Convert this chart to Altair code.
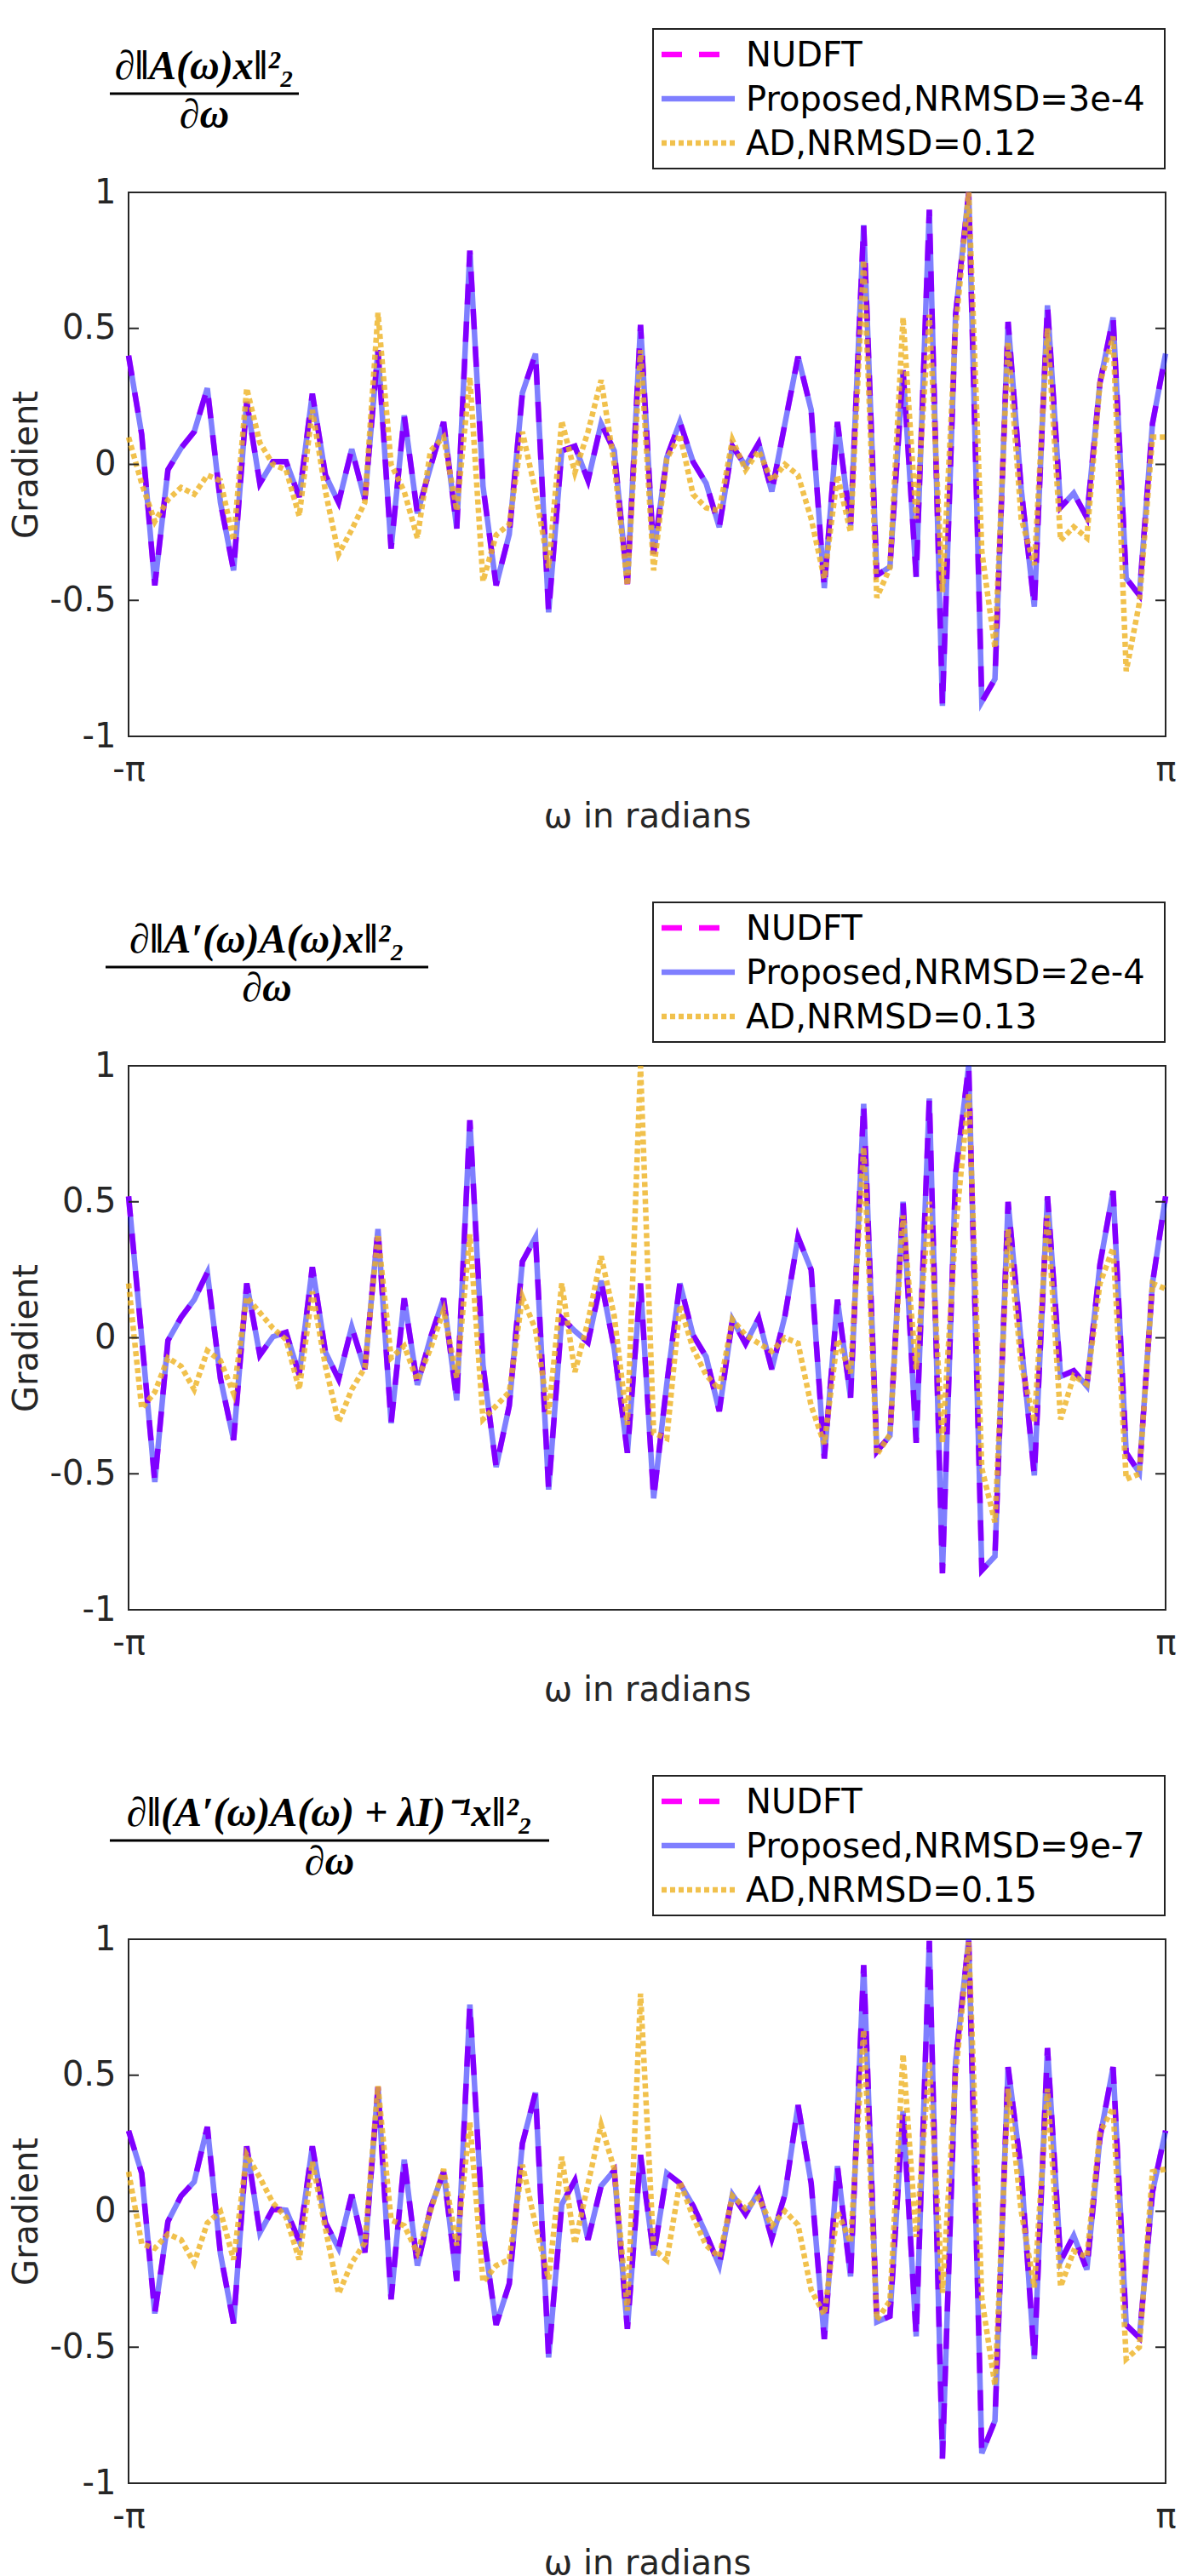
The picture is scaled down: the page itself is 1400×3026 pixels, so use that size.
import math
import altair as alt
import pandas as pd

# ---------------- data ----------------
N_POINTS = 80
omega = [-math.pi + 2 * math.pi * k / (N_POINTS - 1) for k in range(N_POINTS)]

yticks = [-1, -0.5, 0, 0.5, 1]
xticks = [-math.pi, math.pi]

nudft1 = [0.40, 0.11, -0.445, -0.02, 0.06, 0.12, 0.28, -0.14, -0.39, 0.23,
          -0.07, 0.01, 0.01, -0.12, 0.26, -0.04, -0.14, 0.056, -0.13, 0.42,
          -0.31, 0.18, -0.18, -0.01, 0.156, -0.236, 0.786, -0.08, -0.445, -0.257,
          0.262, 0.407, -0.544, 0.05, 0.067, -0.059, 0.15, 0.05, -0.44, 0.513,
          -0.33, 0.025, 0.156, 0.01, -0.07, -0.231, 0.067, -0.005, 0.078, -0.10,
          0.15, 0.396, 0.2, -0.455, 0.156, -0.226, 0.88, -0.408, -0.377, 0.346,
          -0.414, 0.936, -0.888, 0.55, 1.0, -0.873, -0.789, 0.524, -0.09, -0.523,
          0.585, -0.158, -0.106, -0.195, 0.3, 0.54, -0.419, -0.481, 0.15, 0.407]
proposed1 = list(nudft1)
ad1 = [0.1, -0.07, -0.21, -0.13, -0.085, -0.11, -0.04, -0.06, -0.28, 0.28,
       0.08, 0.0, -0.02, -0.19, 0.2, -0.1, -0.33, -0.24, -0.14, 0.557,
       0.0, -0.1, -0.27, 0.05, 0.1, -0.17, 0.32, -0.43, -0.26, -0.22,
       0.12, -0.1, -0.38, 0.16, -0.03, 0.12, 0.31, 0.0, -0.445, 0.42,
       -0.39, 0.02, 0.11, -0.11, -0.16, -0.17, 0.09, -0.02, 0.05, -0.06,
       0.0, -0.04, -0.2, -0.42, -0.04, -0.25, 0.75, -0.49, -0.38, 0.54,
       -0.2, 0.55, -0.47, 0.5, 1.0, -0.32, -0.675, 0.45, -0.2, -0.37,
       0.5, -0.28, -0.23, -0.27, 0.3, 0.47, -0.76, -0.51, 0.1, 0.1]

nudft2 = [0.52, 0.0, -0.53, -0.01, 0.075, 0.14, 0.24, -0.15, -0.376, 0.2,
          -0.064, 0.004, 0.02, -0.136, 0.26, -0.053, -0.152, 0.04, -0.116, 0.4,
          -0.314, 0.145, -0.173, 0.0, 0.145, -0.23, 0.8, -0.1, -0.475, -0.25,
          0.28, 0.37, -0.558, 0.072, 0.025, -0.017, 0.21, -0.04, -0.423, 0.2,
          -0.59, -0.17, 0.2, 0.01, -0.07, -0.27, 0.067, -0.022, 0.072, -0.116,
          0.08, 0.37, 0.25, -0.444, 0.14, -0.22, 0.86, -0.418, -0.36, 0.5,
          -0.386, 0.88, -0.866, 0.6, 1.0, -0.855, -0.803, 0.5, -0.02, -0.506,
          0.52, -0.142, -0.121, -0.178, 0.27, 0.54, -0.423, -0.496, 0.2, 0.52]
proposed2 = list(nudft2)
ad2 = [0.2, -0.26, -0.2, -0.074, -0.105, -0.19, -0.048, -0.084, -0.204, 0.15,
       0.093, 0.035, -0.006, -0.19, 0.17, -0.105, -0.31, -0.19, -0.11, 0.38,
       -0.074, -0.03, -0.157, -0.04, 0.1, -0.147, 0.38, -0.3, -0.25, -0.2,
       0.15, 0.03, -0.28, 0.2, -0.126, 0.06, 0.3, 0.08, -0.32, 1.0,
       -0.35, -0.37, 0.12, -0.04, -0.137, -0.19, 0.067, 0.01, -0.02, -0.05,
       0.0, -0.02, -0.25, -0.39, -0.006, -0.13, 0.7, -0.43, -0.355, 0.45,
       -0.116, 0.5, -0.386, 0.4, 0.9, -0.48, -0.678, 0.4, -0.1, -0.31,
       0.45, -0.3, -0.14, -0.17, 0.2, 0.33, -0.52, -0.5, 0.2, 0.18]

nudft3 = [0.296, 0.14, -0.376, -0.0375, 0.056, 0.108, 0.31, -0.157, -0.4125, 0.2385,
          -0.079, 0.009, 0.004, -0.11, 0.2385, -0.043, -0.136, 0.061, -0.152, 0.457,
          -0.324, 0.19, -0.2, 0.01, 0.145, -0.256, 0.76, -0.07, -0.418, -0.267,
          0.249, 0.436, -0.5375, 0.025, 0.113, -0.105, 0.093, 0.15, -0.433, 0.207,
          -0.1625, 0.14, 0.103, 0.02, -0.084, -0.2, 0.061, -0.011, 0.072, -0.1,
          0.061, 0.39, 0.103, -0.47, 0.166, -0.24, 0.905, -0.407, -0.386, 0.369,
          -0.46, 0.994, -0.91, 0.55, 1.0, -0.89, -0.77, 0.53, 0.15, -0.543,
          0.6, -0.183, -0.09, -0.215, 0.27, 0.53, -0.418, -0.465, 0.07, 0.296]
proposed3 = list(nudft3)
ad3 = [0.145, -0.12, -0.136, -0.084, -0.105, -0.19, -0.043, -0.001, -0.178, 0.207,
       0.124, 0.03, -0.022, -0.178, 0.181, -0.064, -0.303, -0.19, -0.116, 0.46,
       -0.032, -0.053, -0.152, 0.0, 0.155, -0.126, 0.327, -0.26, -0.2, -0.178,
       0.171, -0.05, -0.25, 0.2, -0.12, 0.1, 0.317, 0.155, -0.365, 0.8,
       -0.14, -0.18, 0.108, -0.02, -0.126, -0.168, 0.056, 0.01, 0.05, -0.053,
       0.0, -0.05, -0.29, -0.38, 0.0, -0.115, 0.666, -0.4, -0.33, 0.577,
       -0.095, 0.55, -0.3, 0.5, 0.99, -0.32, -0.64, 0.45, 0.0, -0.28,
       0.45, -0.277, -0.147, -0.168, 0.29, 0.38, -0.543, -0.5, 0.145, 0.155]

formulas = ["∂‖A(ω)x‖²₂",
            "∂‖A′(ω)A(ω)x‖²₂",
            "∂‖(A′(ω)A(ω) + λI)⁻¹x‖²₂"]
denominator = "∂ω"
legend_nudft = "NUDFT"
legend_prop = ["Proposed,NRMSD=3e-4", "Proposed,NRMSD=2e-4", "Proposed,NRMSD=9e-7"]
legend_ad = ["AD,NRMSD=0.12", "AD,NRMSD=0.13", "AD,NRMSD=0.15"]

# ---------------- styling ----------------
W, H = 1218, 639
FONT = "DejaVu Sans"
MATHFONT = "Liberation Serif"
AX = "#262626"
C_NUDFT = "#FF00FF"
C_PROP = "#0000FF"
C_AD = "#EDB120"
LW = 6.5

frac_spans = [(-22, 200), (-27, 352), (-22, 494)]

YLABEL = ("datum.value < 0 ? '-' + format(-datum.value, '~g') "
          ": format(datum.value, '~g')")


def xenc():
    return alt.X(
        "w:Q",
        scale=alt.Scale(domain=[-math.pi, math.pi], nice=False, zero=False),
        axis=alt.Axis(values=xticks, labelExpr="datum.value < 0 ? '-π' : 'π'",
                      title="ω in radians", domain=False, ticks=False, tickSize=0,
                      grid=False, labelFlush=False, labelPadding=19,
                      labelBaseline="top", labelFont=FONT, labelFontSize=40,
                      labelColor=AX, titleFont=FONT, titleFontSize=40,
                      titleColor=AX, titleFontWeight="normal", titleX=W / 2,
                      titleY=106, titleBaseline="alphabetic", titleAlign="center"),
    )


def yenc(field):
    return alt.Y(
        f"{field}:Q",
        scale=alt.Scale(domain=[-1, 1], nice=False, zero=False),
        axis=alt.Axis(values=yticks, labelExpr=YLABEL,
                      title="Gradient", domain=False, ticks=False, tickSize=0,
                      grid=False, labelPadding=15, labelFont=FONT,
                      labelFontSize=40, labelColor=AX, titleFont=FONT,
                      titleFontSize=40, titleColor=AX, titleFontWeight="normal",
                      titleX=-108, titleY=H / 2, titleAngle=270,
                      titleBaseline="alphabetic", titleAlign="center"),
    )


def panel(i, nudft, proposed, ad):
    df = pd.DataFrame({"w": omega, "nudft": nudft, "proposed": proposed, "ad": ad})
    one = pd.DataFrame({"a": [0]})
    tk = pd.DataFrame({"t": yticks})

    bounds = alt.Chart(one).mark_rect(opacity=0).encode(
        x=alt.value(-142), x2=alt.value(W + 10), y=alt.value(-193), y2=alt.value(H + 121))

    l_nudft = alt.Chart(df).mark_line(color=C_NUDFT, strokeWidth=LW, strokeDash=[24, 20]).encode(
        x=xenc(), y=yenc("nudft"))
    l_prop = alt.Chart(df).mark_line(color=C_PROP, opacity=0.5, strokeWidth=LW).encode(
        x=xenc(), y=yenc("proposed"))
    l_ad = alt.Chart(df).mark_line(color=C_AD, opacity=0.8, strokeWidth=LW, strokeDash=[6, 4]).encode(
        x=xenc(), y=yenc("ad"))

    t_left = alt.Chart(tk).mark_rule(color=AX, strokeWidth=2).encode(
        y=yenc("t"), x=alt.value(0), x2=alt.value(12))
    t_right = alt.Chart(tk).mark_rule(color=AX, strokeWidth=2).encode(
        y=yenc("t"), x=alt.value(W - 12), x2=alt.value(W))

    # legend box
    lx0, lx1 = 616, 1217
    box = alt.Chart(one).mark_rect(fill="white", stroke="#222222", strokeWidth=2).encode(
        x=alt.value(lx0), x2=alt.value(lx1), y=alt.value(-192), y2=alt.value(-28))
    s1 = alt.Chart(one).mark_rule(color=C_NUDFT, strokeWidth=LW, strokeDash=[24, 20]).encode(
        x=alt.value(626), x2=alt.value(712), y=alt.value(-162))
    s2 = alt.Chart(one).mark_rule(color=C_PROP, opacity=0.5, strokeWidth=LW).encode(
        x=alt.value(626), x2=alt.value(712), y=alt.value(-110))
    s3 = alt.Chart(one).mark_rule(color=C_AD, opacity=0.8, strokeWidth=LW, strokeDash=[6, 4]).encode(
        x=alt.value(626), x2=alt.value(712), y=alt.value(-58))
    txt_kw = dict(font=FONT, fontSize=40, align="left", baseline="alphabetic", color="black")
    tx1 = alt.Chart(one).mark_text(text=legend_nudft, **txt_kw).encode(
        x=alt.value(725), y=alt.value(-148))
    tx2 = alt.Chart(one).mark_text(text=legend_prop[i], **txt_kw).encode(
        x=alt.value(725), y=alt.value(-96))
    tx3 = alt.Chart(one).mark_text(text=legend_ad[i], **txt_kw).encode(
        x=alt.value(725), y=alt.value(-44))

    # formula (fraction)
    fx0, fx1 = frac_spans[i]
    fc = (fx0 + fx1) / 2
    math_kw = dict(font=MATHFONT, fontSize=48, fontStyle="italic", fontWeight="bold",
                   align="center", baseline="alphabetic", color="black")
    num = alt.Chart(one).mark_text(text=formulas[i], **math_kw).encode(
        x=alt.value(fc), y=alt.value(-133))
    bar = alt.Chart(one).mark_rule(color="black", strokeWidth=3).encode(
        x=alt.value(fx0), x2=alt.value(fx1), y=alt.value(-116))
    den = alt.Chart(one).mark_text(text=denominator, **math_kw).encode(
        x=alt.value(fc), y=alt.value(-76))

    return alt.layer(bounds, l_nudft, l_prop, l_ad, t_left, t_right,
                     box, s1, s2, s3, tx1, tx2, tx3, num, bar, den).properties(width=W, height=H)


chart = alt.vconcat(
    panel(0, nudft1, proposed1, ad1),
    panel(1, nudft2, proposed2, ad2),
    panel(2, nudft3, proposed3, ad3),
    spacing=71,
).properties(
    padding={"left": 0, "top": 24, "right": 5, "bottom": 0},
    background="white",
).configure_view(stroke=AX, strokeWidth=2)

chart.save("out.html", embed_options={"renderer": "svg", "actions": False})
